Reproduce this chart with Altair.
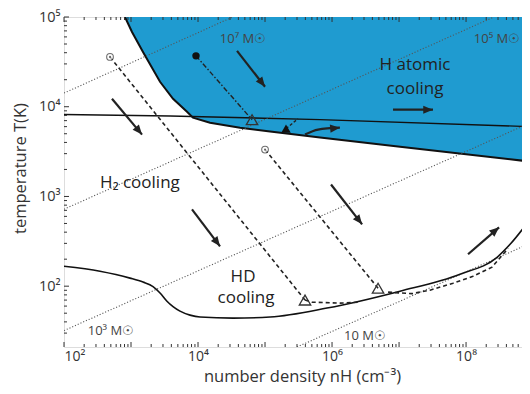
import math
import altair as alt
import pandas as pd

# ---------------- data (n in cm^-3, T in K) ----------------
atomic_n = [813, 1035, 1510, 2710, 4240, 6850, 8410, 15100, 42400, 118900, 662000, 1.035e7, 9.0e8]
atomic_T = [1e5, 68100, 40800, 18950, 12270, 8790, 7550, 6640, 5840, 5280, 4530, 3590, 2450]

horiz_n = [100, 3820, 662000, 9.0e8]
horiz_T = [8200, 7890, 7180, 6000]

tmin_n = [100, 344, 966, 1510, 2130, 2710, 3440, 4240, 5380, 7600, 10720, 33300, 118900, 841000,
          1.035e7, 8.13e7, 2.9e8, 4.54e8, 9.0e8]
tmin_T = [167, 147, 123, 111, 99, 84, 68, 59.2, 52.7, 47.6, 45.3, 44.1, 45.3, 57,
          88, 136, 210, 293, 555]

# Jeans-mass lines (two end points each)
jeans_mass = ["1e7", "1e5", "1e3", "10"]
jeans_n = [[100, 33000], [100, 2.6e8], [100, 9.0e8], [3.0e5, 9.0e8]]
jeans_T = [[14200, 1e5], [720, 1e5], [32, 6600], [21, 300]]

# collapse trajectories
trajA_n = [486, 395000]
trajA_T = [35900, 70]
tailA_n = [395000, 502000, 1.31e6, 2.62e6]
tailA_T = [70, 66.4, 64.7, 66.4]
trajB_n = [100000, 4.86e6]
trajB_T = [3330, 95]
tailB_n = [6.86e6, 1.56e7, 2.9e7, 6.4e7, 1.27e8, 2.44e8, 4.24e8]
tailB_T = [85.8, 82.6, 90.3, 108, 129, 163, 264]
trajC_n = [9330, 64000]
trajC_T = [36900, 7170]
curlC_n = [205600, 253000, 311000]
curlC_T = [5700, 6470, 7360]

tri_n = [395000, 4.86e6, 64000]
tri_T = [70, 95, 7170]
ocirc_n = [486, 100000]
ocirc_T = [35900, 3330]
fcirc_n = [9330]
fcirc_T = [36900]
blob_n = [205600]
blob_T = [5700]

# arrows: start -> end
arrow_n0 = [520, 38200, 8.13e6, 8130, 966000, 1.07e8]
arrow_T0 = [12270, 41900, 9260, 718, 1360, 227]
arrow_n1 = [1460, 100000, 3.21e7, 21300, 2.81e6, 3.11e8]
arrow_T1 = [4890, 16700, 9260, 278, 489, 453]
curved_n = [395000, 618000, 1.31e6]
curved_T = [4890, 5550, 5840]

# text labels
mass_text = ["10⁷ M☉", "10⁵ M☉", "10³ M☉", "10 M☉"]
mass_text_n = [47000, 2.9e8, 502, 3.11e6]
mass_text_T = [57000, 57500, 31.6, 27.8]

region_text = ["H atomic", "cooling", "H₂ cooling", "HD", "cooling"]
region_n = [1.73e7, 1.73e7, 1360, 47000, 52000]
region_T = [29300, 15850, 1430, 126, 73.6]

x_major = [1e2, 1e4, 1e6, 1e8]
y_major = [1e2, 1e3, 1e4, 1e5]

# ---------------- layout ----------------
W, H = 466, 330
PX_X, PX_Y = 67.0, 90.0  # pixels per decade, used only for arrow-head angles
FONT = "Open Sans"
XDOM = [100, 9.0e8]
YDOM = [21, 1e5]

xs = alt.Scale(type="log", domain=XDOM, nice=False)
ys = alt.Scale(type="log", domain=YDOM, nice=False)

lab_expr = ("'10' + (round(log(datum.value)/LN10)==2?'²':round(log(datum.value)/LN10)==3?'³':"
            "round(log(datum.value)/LN10)==4?'⁴':round(log(datum.value)/LN10)==5?'⁵':"
            "round(log(datum.value)/LN10)==6?'⁶':round(log(datum.value)/LN10)==7?'⁷':'⁸')")

X = lambda **k: alt.X("n:Q", scale=xs, **k)
Y = lambda **k: alt.Y("T:Q", scale=ys, **k)

df = lambda n, T, **extra: pd.DataFrame({"n": n, "T": T, **extra})

# blue atomic-cooling region
area = alt.Chart(df(atomic_n, atomic_T, top=[1e5] * len(atomic_n))).mark_area(
    color="#1f9bd0", opacity=1, clip=True
).encode(
    x=X(axis=alt.Axis(values=x_major, labelExpr=lab_expr, ticks=False, domain=False, grid=False,
                      labelFont=FONT, labelFontSize=14, labelColor="#333", labelPadding=2,
                      title="number density  nH (cm⁻³)", titleFont=FONT, titleFontSize=16.5,
                      titleFontWeight="normal", titleColor="#333",
                      titleBaseline="alphabetic", titleY=34, titleX=238)),
    y=Y(axis=alt.Axis(values=y_major, labelExpr=lab_expr, ticks=False, domain=False, grid=False,
                      labelFont=FONT, labelFontSize=14.5, labelColor="#333", labelPadding=4,
                      title="temperature  T(K)", titleFont=FONT, titleFontSize=16.5,
                      titleFontWeight="normal", titleColor="#333",
                      titleBaseline="middle", titleX=-44, titleY=151)),
    y2="top:Q",
)
area_edge = alt.Chart(df(atomic_n, atomic_T, o=list(range(len(atomic_n))))).mark_line(
    color="#111", strokeWidth=2, clip=True
).encode(x=X(), y=Y(), order="o:Q")

horiz = alt.Chart(df(horiz_n, horiz_T, o=list(range(len(horiz_n))))).mark_line(
    color="#111", strokeWidth=1.4, clip=True
).encode(x=X(), y=Y(), order="o:Q")

jrows = []
for m, nn, tt in zip(jeans_mass, jeans_n, jeans_T):
    for i in range(2):
        jrows.append({"m": m, "n": nn[i], "T": tt[i], "o": i})
jeans = alt.Chart(pd.DataFrame(jrows)).mark_line(
    color="#555", strokeWidth=1.1, strokeDash=[1.1, 1.9], clip=True
).encode(x=X(), y=Y(), detail="m:N", order="o:Q")

tmin = alt.Chart(df(tmin_n, tmin_T, o=list(range(len(tmin_n))))).mark_line(
    color="#111", strokeWidth=1.6, clip=True, interpolate="monotone"
).encode(x=X(), y=Y(), order="o:Q")

def dline(n, T, dash, width=1.6, color="#222"):
    return alt.Chart(df(n, T, o=list(range(len(n))))).mark_line(
        color=color, strokeWidth=width, strokeDash=dash, clip=True
    ).encode(x=X(), y=Y(), order="o:Q")

trajA = dline(trajA_n, trajA_T, [4, 3])
tailA = dline(tailA_n, tailA_T, [4, 3])
trajB = dline(trajB_n, trajB_T, [4, 3])
tailB = dline(tailB_n, tailB_T, [4, 3])
trajC = dline(trajC_n, trajC_T, [5, 2, 1.5, 2], width=1.4)
curlC = dline(curlC_n, curlC_T, [3, 2], width=1.4)

tris = alt.Chart(df(tri_n, tri_T)).mark_point(
    shape="triangle-up", filled=True, fill="white", fillOpacity=0, stroke="#333",
    strokeWidth=1.3, size=130
).encode(x=X(), y=Y())
ocirc = alt.Chart(df(ocirc_n, ocirc_T)).mark_point(
    shape="circle", filled=True, fill="white", stroke="#333", strokeWidth=1.1, size=45
).encode(x=X(), y=Y())
ocirc_dot = alt.Chart(df(ocirc_n, ocirc_T)).mark_point(
    shape="circle", filled=True, color="#333", size=5
).encode(x=X(), y=Y())
fcirc = alt.Chart(df(fcirc_n, fcirc_T)).mark_point(
    shape="circle", filled=True, color="#111", size=55, opacity=1
).encode(x=X(), y=Y())
blob = alt.Chart(df(blob_n, blob_T)).mark_point(
    shape="triangle-up", filled=True, color="#111", size=90, opacity=1
).encode(x=X(), y=Y())

# arrows
arows = []
for i in range(len(arrow_n0)):
    arows.append({"a": i, "o": 0, "n": arrow_n0[i], "T": arrow_T0[i]})
    arows.append({"a": i, "o": 1, "n": arrow_n1[i], "T": arrow_T1[i]})
for j in range(len(curved_n)):
    arows.append({"a": 99, "o": j, "n": curved_n[j], "T": curved_T[j]})
shafts = alt.Chart(pd.DataFrame(arows)).mark_line(
    color="#222", strokeWidth=2.2, clip=True, interpolate="monotone"
).encode(x=X(), y=Y(), detail="a:N", order="o:Q")

heads = []
ends = list(zip(arrow_n0, arrow_T0, arrow_n1, arrow_T1)) + [(curved_n[-2], curved_T[-2], curved_n[-1], curved_T[-1])]
for n0, t0, n1, t1 in ends:
    dx = (math.log10(n1) - math.log10(n0)) * PX_X
    dy = -(math.log10(t1) - math.log10(t0)) * PX_Y
    ang = math.degrees(math.atan2(dx, -dy)) % 360
    heads.append({"n": n1, "T": t1, "ang": ang})
head = alt.Chart(pd.DataFrame(heads)).mark_point(
    shape="M0,0L0.42,1L-0.42,1Z", filled=True, color="#222", size=380, opacity=1
).encode(x=X(), y=Y(), angle=alt.Angle("ang:Q", scale=None))

mass_lbl = alt.Chart(df(mass_text_n, mass_text_T, t=mass_text)).mark_text(
    font=FONT, fontSize=13, color="#444", align="center", baseline="middle"
).encode(x=X(), y=Y(), text="t:N")
region_lbl = alt.Chart(df(region_n, region_T, t=region_text)).mark_text(
    font=FONT, fontSize=17, color="#222", align="center", baseline="middle"
).encode(x=X(), y=Y(), text="t:N")

# inward ticks
x_minor = [m * 10 ** k for k in range(2, 9) for m in range(2, 10) if m * 10 ** k <= XDOM[1]]
y_minor = [m * 10 ** k for k in range(1, 5) for m in range(2, 10) if YDOM[0] <= m * 10 ** k <= YDOM[1]]
x_dec = [10 ** k for k in range(2, 9)]
y_dec = [10 ** k for k in range(2, 6)]

def xt(vals, L, top):
    d = pd.DataFrame({"n": vals})
    if top:
        return alt.Chart(d).mark_rule(color="#333", strokeWidth=1).encode(
            x=X(), y=alt.value(0), y2=alt.value(L))
    return alt.Chart(d).mark_rule(color="#333", strokeWidth=1).encode(
        x=X(), y=alt.value(H), y2=alt.value(H - L))

def yt(vals, L, right):
    d = pd.DataFrame({"T": vals})
    if right:
        return alt.Chart(d).mark_rule(color="#333", strokeWidth=1).encode(
            y=Y(), x=alt.value(W), x2=alt.value(W - L))
    return alt.Chart(d).mark_rule(color="#333", strokeWidth=1).encode(
        y=Y(), x=alt.value(0), x2=alt.value(L))

ticks = [xt(x_minor, 3, False), xt(x_dec, 5, False), xt(x_minor, 3, True), xt(x_dec, 5, True),
         yt(y_minor, 3, False), yt(y_dec, 5, False), yt(y_minor, 3, True), yt(y_dec, 5, True)]

chart = alt.layer(
    area, area_edge, horiz, jeans, tmin,
    trajA, tailA, trajB, tailB, trajC, curlC,
    tris, ocirc, ocirc_dot, fcirc, blob,
    shafts, head, mass_lbl, region_lbl, *ticks
).properties(
    width=W, height=H,
    autosize=alt.AutoSizeParams(type="none"),
    padding={"left": 56, "top": 9, "right": -8, "bottom": 39},
).configure_view(stroke="#222", strokeWidth=1.6).configure(background="white")

chart.save("out.html", embed_options={"renderer": "svg", "actions": False})
